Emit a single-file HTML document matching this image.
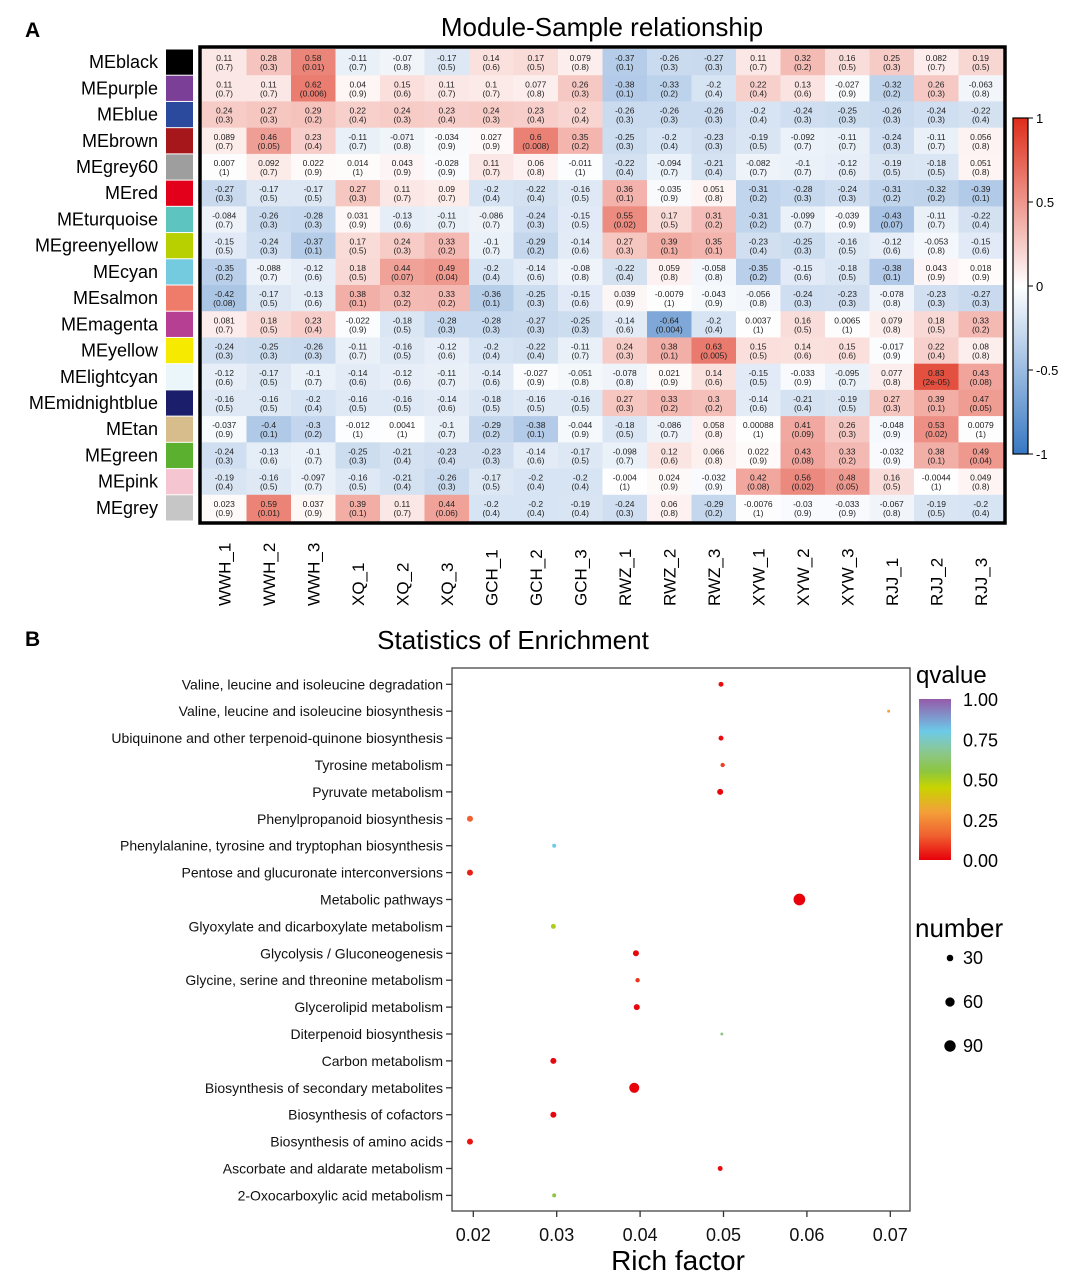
<!DOCTYPE html>
<html><head><meta charset="utf-8">
<style>
html,body{margin:0;padding:0;background:#fff;}
svg{display:block;font-family:"Liberation Sans",Arial,sans-serif;}
</style></head>
<body>
<svg id="fig" width="1080" height="1285" viewBox="0 0 1080 1285" xmlns="http://www.w3.org/2000/svg">
<text x="25" y="37" font-size="21" font-weight="bold">A</text>
<text x="602" y="36" font-size="26" text-anchor="middle">Module-Sample relationship</text>
<text x="25" y="646" font-size="21" font-weight="bold">B</text>
<text x="513" y="649" font-size="26" text-anchor="middle">Statistics of Enrichment</text>
<g id="heat"></g>
<g id="bub"></g>
</svg>
<script>
const modules=["MEblack","MEpurple","MEblue","MEbrown","MEgrey60","MEred","MEturquoise","MEgreenyellow","MEcyan","MEsalmon","MEmagenta","MEyellow","MElightcyan","MEmidnightblue","MEtan","MEgreen","MEpink","MEgrey"];
const moduleColors=["#000000","#7b3f98","#2b4a9e","#a6171c","#9e9e9e","#e3001b","#5ec4c0","#b9d000","#74cbe0","#ef7b6a","#b73f93","#f5ea00","#eaf6f9","#1b1f6b","#d7bd8c","#5bb030","#f5c6d2","#c6c6c6"];
const samples=["WWH_1","WWH_2","WWH_3","XQ_1","XQ_2","XQ_3","GCH_1","GCH_2","GCH_3","RWZ_1","RWZ_2","RWZ_3","XYW_1","XYW_2","XYW_3","RJJ_1","RJJ_2","RJJ_3"];
const corr=[
["0.11","0.28","0.58","-0.11","-0.07","-0.17","0.14","0.17","0.079","-0.37","-0.26","-0.27","0.11","0.32","0.16","0.25","0.082","0.19"],
["0.11","0.11","0.62","0.04","0.15","0.11","0.1","0.077","0.26","-0.38","-0.33","-0.2","0.22","0.13","-0.027","-0.32","0.26","-0.063"],
["0.24","0.27","0.29","0.22","0.24","0.23","0.24","0.23","0.2","-0.26","-0.26","-0.26","-0.2","-0.24","-0.25","-0.26","-0.24","-0.22"],
["0.089","0.46","0.23","-0.11","-0.071","-0.034","0.027","0.6","0.35","-0.25","-0.2","-0.23","-0.19","-0.092","-0.11","-0.24","-0.11","0.056"],
["0.007","0.092","0.022","0.014","0.043","-0.028","0.11","0.06","-0.011","-0.22","-0.094","-0.21","-0.082","-0.1","-0.12","-0.19","-0.18","0.051"],
["-0.27","-0.17","-0.17","0.27","0.11","0.09","-0.2","-0.22","-0.16","0.36","-0.035","0.051","-0.31","-0.28","-0.24","-0.31","-0.32","-0.39"],
["-0.084","-0.26","-0.28","0.031","-0.13","-0.11","-0.086","-0.24","-0.15","0.55","0.17","0.31","-0.31","-0.099","-0.039","-0.43","-0.11","-0.22"],
["-0.15","-0.24","-0.37","0.17","0.24","0.33","-0.1","-0.29","-0.14","0.27","0.39","0.35","-0.23","-0.25","-0.16","-0.12","-0.053","-0.15"],
["-0.35","-0.088","-0.12","0.18","0.44","0.49","-0.2","-0.14","-0.08","-0.22","0.059","-0.058","-0.35","-0.15","-0.18","-0.38","0.043","0.018"],
["-0.42","-0.17","-0.13","0.38","0.32","0.33","-0.36","-0.25","-0.15","0.039","-0.0079","-0.043","-0.056","-0.24","-0.23","-0.078","-0.23","-0.27"],
["0.081","0.18","0.23","-0.022","-0.18","-0.28","-0.28","-0.27","-0.25","-0.14","-0.64","-0.2","0.0037","0.16","0.0065","0.079","0.18","0.33"],
["-0.24","-0.25","-0.26","-0.11","-0.16","-0.12","-0.2","-0.22","-0.11","0.24","0.38","0.63","0.15","0.14","0.15","-0.017","0.22","0.08"],
["-0.12","-0.17","-0.1","-0.14","-0.12","-0.11","-0.14","-0.027","-0.051","-0.078","0.021","0.14","-0.15","-0.033","-0.095","0.077","0.83","0.43"],
["-0.16","-0.16","-0.2","-0.16","-0.16","-0.14","-0.18","-0.16","-0.16","0.27","0.33","0.3","-0.14","-0.21","-0.19","0.27","0.39","0.47"],
["-0.037","-0.4","-0.3","-0.012","0.0041","-0.1","-0.29","-0.38","-0.044","-0.18","-0.086","0.058","0.00088","0.41","0.26","-0.048","0.53","0.0079"],
["-0.24","-0.13","-0.1","-0.25","-0.21","-0.23","-0.23","-0.14","-0.17","-0.098","0.12","0.066","0.022","0.43","0.33","-0.032","0.38","0.49"],
["-0.19","-0.16","-0.097","-0.16","-0.21","-0.26","-0.17","-0.2","-0.2","-0.004","0.024","-0.032","0.42","0.56","0.48","0.16","-0.0044","0.049"],
["0.023","0.59","0.037","0.39","0.11","0.44","-0.2","-0.2","-0.19","-0.24","0.06","-0.29","-0.0076","-0.03","-0.033","-0.067","-0.19","-0.2"]];
const pval=[
["0.7","0.3","0.01","0.7","0.8","0.5","0.6","0.5","0.8","0.1","0.3","0.3","0.7","0.2","0.5","0.3","0.7","0.5"],
["0.7","0.7","0.006","0.9","0.6","0.7","0.7","0.8","0.3","0.1","0.2","0.4","0.4","0.6","0.9","0.2","0.3","0.8"],
["0.3","0.3","0.2","0.4","0.3","0.4","0.3","0.4","0.4","0.3","0.3","0.3","0.4","0.3","0.3","0.3","0.3","0.4"],
["0.7","0.05","0.4","0.7","0.8","0.9","0.9","0.008","0.2","0.3","0.4","0.3","0.5","0.7","0.7","0.3","0.7","0.8"],
["1","0.7","0.9","1","0.9","0.9","0.7","0.8","1","0.4","0.7","0.4","0.7","0.7","0.6","0.5","0.5","0.8"],
["0.3","0.5","0.5","0.3","0.7","0.7","0.4","0.4","0.5","0.1","0.9","0.8","0.2","0.3","0.3","0.2","0.2","0.1"],
["0.7","0.3","0.3","0.9","0.6","0.7","0.7","0.3","0.5","0.02","0.5","0.2","0.2","0.7","0.9","0.07","0.7","0.4"],
["0.5","0.3","0.1","0.5","0.3","0.2","0.7","0.2","0.6","0.3","0.1","0.1","0.4","0.3","0.5","0.6","0.8","0.6"],
["0.2","0.7","0.6","0.5","0.07","0.04","0.4","0.6","0.8","0.4","0.8","0.8","0.2","0.6","0.5","0.1","0.9","0.9"],
["0.08","0.5","0.6","0.1","0.2","0.2","0.1","0.3","0.6","0.9","1","0.9","0.8","0.3","0.3","0.8","0.3","0.3"],
["0.7","0.5","0.4","0.9","0.5","0.3","0.3","0.3","0.3","0.6","0.004","0.4","1","0.5","1","0.8","0.5","0.2"],
["0.3","0.3","0.3","0.7","0.5","0.6","0.4","0.4","0.7","0.3","0.1","0.005","0.5","0.6","0.6","0.9","0.4","0.8"],
["0.6","0.5","0.7","0.6","0.6","0.7","0.6","0.9","0.8","0.8","0.9","0.6","0.5","0.9","0.7","0.8","2e-05","0.08"],
["0.5","0.5","0.4","0.5","0.5","0.6","0.5","0.5","0.5","0.3","0.2","0.2","0.6","0.4","0.5","0.3","0.1","0.05"],
["0.9","0.1","0.2","1","1","0.7","0.2","0.1","0.9","0.5","0.7","0.8","1","0.09","0.3","0.9","0.02","1"],
["0.3","0.6","0.7","0.3","0.4","0.4","0.3","0.6","0.5","0.7","0.6","0.8","0.9","0.08","0.2","0.9","0.1","0.04"],
["0.4","0.5","0.7","0.5","0.4","0.3","0.5","0.4","0.4","1","0.9","0.9","0.08","0.02","0.05","0.5","1","0.8"],
["0.9","0.01","0.9","0.1","0.7","0.06","0.4","0.4","0.4","0.3","0.8","0.2","1","0.9","0.9","0.8","0.5","0.4"]];
const heatTicks=["1","0.5","0","-0.5","-1"];

const pathways=["Valine, leucine and isoleucine degradation","Valine, leucine and isoleucine biosynthesis","Ubiquinone and other terpenoid-quinone biosynthesis","Tyrosine metabolism","Pyruvate metabolism","Phenylpropanoid biosynthesis","Phenylalanine, tyrosine and tryptophan biosynthesis","Pentose and glucuronate interconversions","Metabolic pathways","Glyoxylate and dicarboxylate metabolism","Glycolysis / Gluconeogenesis","Glycine, serine and threonine metabolism","Glycerolipid metabolism","Diterpenoid biosynthesis","Carbon metabolism","Biosynthesis of secondary metabolites","Biosynthesis of cofactors","Biosynthesis of amino acids","Ascorbate and aldarate metabolism","2-Oxocarboxylic acid metabolism"];
const richFactor=[0.0497,0.0698,0.0497,0.0499,0.0496,0.0196,0.0297,0.0196,0.0591,0.0296,0.0395,0.0397,0.0396,0.0498,0.0296,0.0393,0.0296,0.0196,0.0496,0.0297];
const qvalue=[0.02,0.3,0.02,0.1,0.01,0.15,0.8,0.05,0.0,0.5,0.01,0.08,0.01,0.65,0.01,0.0,0.01,0.03,0.02,0.55];
const geneNumber=[17,6,17,13,25,25,11,25,95,17,25,13,25,6,25,70,25,25,17,11];
const xTicks=[0.02,0.03,0.04,0.05,0.06,0.07];
const qTicks=[1.00,0.75,0.50,0.25,0.00];
const sizeLegend=[30,60,90];

const NS="http://www.w3.org/2000/svg";
function mk(tag,attrs,parent,text){const e=document.createElementNS(NS,tag);for(const k in attrs)e.setAttribute(k,attrs[k]);if(text!==undefined)e.textContent=text;parent.appendChild(e);return e;}

// ---------- Heatmap ----------
const H=document.getElementById('heat');
const hx0=202,hy0=49,cw=(1003-202)/18,ch=(521-49)/18;
function colX(j){return hx0+j*cw;}
function rowY(i){return hy0+i*ch;}
function divColor(v){v=Math.max(-1,Math.min(1,v));let r,g,b;
 if(v>=0){r=255-(255-222)*v;g=255-(255-45)*v;b=255-(255-25)*v;}
 else{const a=-v;r=255-(255-55)*a;g=255-(255-120)*a;b=255-(255-195)*a;}
 return `rgb(${r|0},${g|0},${b|0})`;}
for(let i=0;i<modules.length;i++){
 const y=rowY(i);
 const lab=mk('text',{x:158,y:y+ch/2+6,'font-size':18,'text-anchor':'end'},H,modules[i]);
 
 
 const sw=mk('rect',{x:166,y:y+0.5,width:27,height:ch-1,fill:moduleColors[i]},H);
 
 
 for(let j=0;j<samples.length;j++){
  const x=colX(j);
  const c=mk('rect',{x:x,y:y,width:cw+0.3,height:ch+0.3,fill:divColor(parseFloat(corr[i][j]))},H);
  
  
  const t=mk('text',{x:x+cw/2,y:y+ch/2-1,'font-size':8.5,'text-anchor':'middle',fill:'#222'},H,corr[i][j]);
  
  
  const t2=mk('text',{x:x+cw/2,y:y+ch/2+8,'font-size':8.5,'text-anchor':'middle',fill:'#222'},H,'('+pval[i][j]+')');
  
  
 }
}
const hb=mk('rect',{x:200,y:47,width:805,height:476,fill:'none',stroke:'#000','stroke-width':3.5},H);


for(let j=0;j<samples.length;j++){
 const cx=colX(j)+cw/2+6;
 const t=mk('text',{x:cx,y:606,'font-size':17,transform:`rotate(-90 ${cx} 606)`},H,samples[j]);
 
 
}
const cbTop=118,cbBot=454;
const defs=mk('defs',{},document.getElementById('fig'));
const lg=mk('linearGradient',{id:'hgrad',x1:0,y1:0,x2:0,y2:1},defs);
for(let k=0;k<=10;k++){mk('stop',{offset:(k/10),'stop-color':divColor(1-k/5)},lg);}
const hcb=mk('rect',{x:1013,y:cbTop,width:15,height:cbBot-cbTop,fill:'url(#hgrad)',stroke:'#000','stroke-width':1.2},H);


function cbY(v){return cbTop+(1-v)/2*(cbBot-cbTop);}
heatTicks.forEach(s=>{const v=parseFloat(s),y=cbY(v);
 mk('line',{x1:1028,x2:1033,y1:y,y2:y,stroke:'#000'},H);
 const t=mk('text',{x:1036,y:y+5,'font-size':13},H,s);
 
 
});

// ---------- Bubble chart ----------
const B=document.getElementById('bub');
const px0=452,px1=910,py0=668,py1=1211;
function xs(v){return 473.3+(v-0.02)*8340;}
function ys(i){return 684.3+i*26.9;}
function rs(n){return Math.sqrt(n)*0.6;}
function qColor(q){const stops=[[0,[232,0,11]],[0.15,[240,96,48]],[0.3,[244,160,58]],[0.45,[200,212,0]],[0.55,[141,198,63]],[0.68,[140,200,150]],[0.8,[108,203,232]],[1,[150,90,170]]];
 for(let k=1;k<stops.length;k++){if(q<=stops[k][0]){const a=stops[k-1],b=stops[k],t=(q-a[0])/(b[0]-a[0]);return `rgb(${(a[1][0]+(b[1][0]-a[1][0])*t)|0},${(a[1][1]+(b[1][1]-a[1][1])*t)|0},${(a[1][2]+(b[1][2]-a[1][2])*t)|0})`;}}
 return 'rgb(150,90,170)';}
const pb=mk('rect',{x:px0,y:py0,width:px1-px0,height:py1-py0,fill:'none',stroke:'#444','stroke-width':1.3},B);


pathways.forEach((p,i)=>{const y=ys(i);
 mk('line',{x1:446,x2:452,y1:y,y2:y,stroke:'#333','stroke-width':1.3},B);
 const t=mk('text',{x:443,y:y+5,'font-size':14,'text-anchor':'end',fill:'#111'},B,p);
 
 
 const c=mk('circle',{cx:xs(richFactor[i]),cy:y,r:rs(geneNumber[i]),fill:qColor(qvalue[i])},B);
 
 
});
xTicks.forEach(v=>{const x=xs(v);
 mk('line',{x1:x,x2:x,y1:py1,y2:py1+6,stroke:'#333','stroke-width':1.3},B);
 const t=mk('text',{x:x,y:1241,'font-size':18,'text-anchor':'middle',fill:'#111'},B,v.toFixed(2));
 
 
});
const xt=mk('text',{x:678,y:1270,'font-size':28,'text-anchor':'middle'},B,'Rich factor');


const qt=mk('text',{x:916,y:683,'font-size':24},B,'qvalue');


const qg=mk('linearGradient',{id:'qgrad',x1:0,y1:0,x2:0,y2:1},defs);
for(let k=0;k<=20;k++){mk('stop',{offset:k/20,'stop-color':qColor(1-k/20)},qg);}
const qtop=699,qbot=860;
const qcb=mk('rect',{x:919,y:qtop,width:32,height:qbot-qtop,fill:'url(#qgrad)'},B);


qTicks.forEach(v=>{const y=qtop+(1-v)*(qbot-qtop);
 const t=mk('text',{x:963,y:y+7,'font-size':18},B,v.toFixed(2));
 
 
});
const nt=mk('text',{x:915,y:937,'font-size':26},B,'number');


sizeLegend.forEach((n,k)=>{const y=958+k*44;
 const c=mk('circle',{cx:950,cy:y,r:rs(n),fill:'#000'},B);
 
 
 const t=mk('text',{x:963,y:y+6,'font-size':18},B,String(n));
 
 
});
</script>
</body></html>
